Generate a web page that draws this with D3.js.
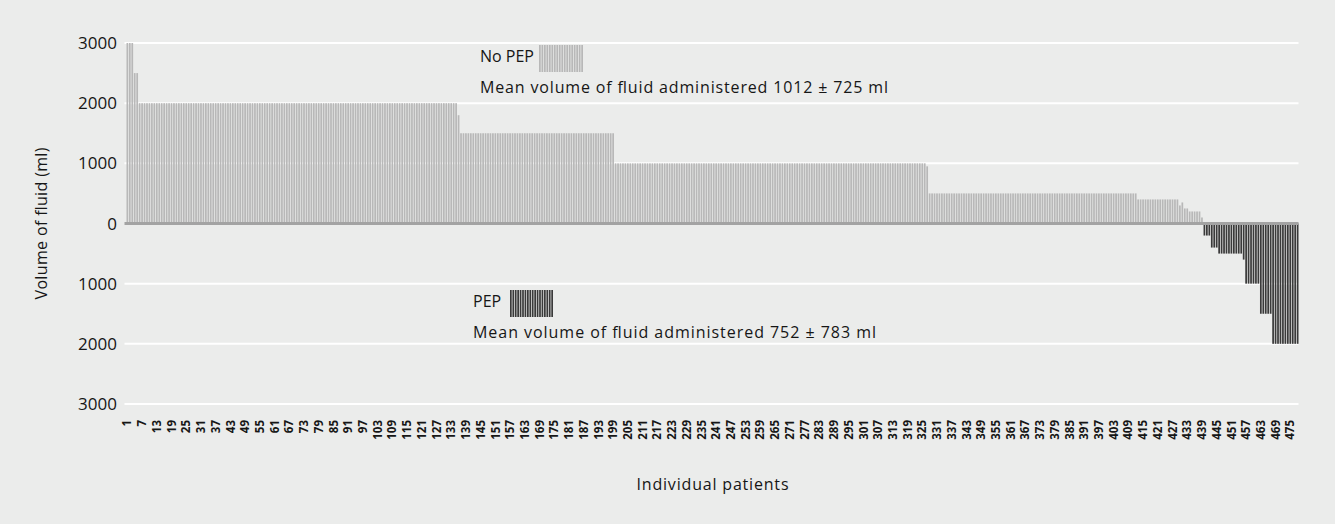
<!DOCTYPE html>
<html>
<head>
<meta charset="utf-8">
<script src="https://cdn.jsdelivr.net/npm/d3@7"></script>
<style>
  body { margin: 0; background: #ffffff; }
  svg text { font-family: "Open Sans", "Noto Sans", sans-serif; fill: #161616; }
</style>
</head>
<body>
<div id="chart"></div>
<script>
// fluid volume per patient, stored as runs (level, number of patients)
var noPepLevels = [3000, 2500, 2000, 1800, 1500, 1000, 950, 500, 400, 300, 350, 250, 200, 100];
var noPepCounts = [3, 2, 130, 1, 63, 127, 1, 85, 17, 1, 1, 2, 5, 1];
var pepLevels   = [200, 400, 500, 600, 1000, 1500, 2000];
var pepCounts   = [3, 3, 10, 1, 6, 5, 11];
var yTicks      = [3000, 2000, 1000, 0, -1000, -2000, -3000];
var xTickStep   = 6;

var W = 1335, H = 524;
var m = { left: 126.5, right: 36.5, top: 43, bottom: 120 };

// expand the runs into one record per patient
var data = [];
noPepLevels.forEach(function(v, i) {
    for (var k = 0; k < noPepCounts[i]; k++) data.push({ p: data.length + 1, v: v, pep: false });
});
pepLevels.forEach(function(v, i) {
    for (var k = 0; k < pepCounts[i]; k++) data.push({ p: data.length + 1, v: -v, pep: true });
});

var svg = d3.select("#chart").append("svg").attr("width", W).attr("height", H);
svg.append("rect").attr("x", 0).attr("y", 0).attr("width", W).attr("height", H).attr("fill", "#ebeceb");

var x = d3.scaleBand().domain(data.map(function(d) { return d.p; }))
    .range([m.left, W - m.right]).paddingInner(0.3).paddingOuter(0);
var y = d3.scaleLinear().domain([-3000, 3000]).range([H - m.bottom, m.top]);

// grid lines
svg.append("g").selectAll("line").data(yTicks.filter(function(t) { return t !== 0; })).enter()
    .append("line")
    .attr("x1", m.left - 2).attr("x2", W - m.right)
    .attr("y1", function(d) { return y(d); }).attr("y2", function(d) { return y(d); })
    .attr("stroke", "#ffffff").attr("stroke-width", 2);

// bars
svg.append("g").selectAll("rect").data(data).enter()
    .append("rect")
    .attr("x", function(d) { return x(d.p); })
    .attr("width", x.bandwidth())
    .attr("y", function(d) { return y(Math.max(0, d.v)); })
    .attr("height", function(d) { return Math.abs(y(d.v) - y(0)); })
    .attr("fill", function(d) { return d.pep ? "#3a3a3a" : "#b8b8b8"; });

// zero line
svg.append("line")
    .attr("x1", m.left - 2).attr("x2", W - m.right)
    .attr("y1", y(0)).attr("y2", y(0))
    .attr("stroke", "#a3a3a3").attr("stroke-width", 3);

// y axis labels (absolute values)
svg.append("g").selectAll("text").data(yTicks).enter()
    .append("text")
    .attr("x", 117).attr("y", function(d) { return y(d); })
    .attr("dy", "0.36em").attr("text-anchor", "end")
    .style("font-size", "17px")
    .text(function(d) { return Math.abs(d); });

// x axis labels
var xTicks = data.filter(function(d) { return (d.p - 1) % xTickStep === 0; }).map(function(d) { return d.p; });
svg.append("g").selectAll("text").data(xTicks).enter()
    .append("text")
    .attr("transform", function(d) { return "translate(" + (x(d) + x.bandwidth() / 2) + "," + (H - m.bottom + 16) + ") rotate(-90)"; })
    .attr("dy", "0.36em").attr("text-anchor", "end")
    .style("font-size", "11.5px").style("font-weight", "bold")
    .text(function(d) { return d; });

// axis titles
svg.append("text")
    .attr("transform", "translate(47," + y(0) + ") rotate(-90)")
    .attr("text-anchor", "middle").style("font-size", "16px")
    .attr("textLength", 152).attr("lengthAdjust", "spacing")
    .text("Volume of fluid (ml)");
svg.append("text")
    .attr("x", (m.left + W - m.right) / 2).attr("y", 490)
    .attr("text-anchor", "middle").style("font-size", "16px")
    .attr("textLength", 152).attr("lengthAdjust", "spacing")
    .text("Individual patients");

// legends
function legend(lx, ly, label, swX, swW, dark, mean, meanLen) {
    var g = svg.append("g");
    g.append("text").attr("x", lx).attr("y", ly).style("font-size", "16px").text(label);
    var n = Math.round(swW / 2.45);
    var sw = d3.scaleBand().domain(d3.range(n)).range([swX, swX + swW]).paddingInner(0.3);
    g.selectAll("rect").data(d3.range(n)).enter().append("rect")
        .attr("x", function(d) { return sw(d); }).attr("width", sw.bandwidth())
        .attr("y", ly - 17).attr("height", 27)
        .attr("fill", dark ? "#3a3a3a" : "#b8b8b8");
    g.append("text").attr("x", lx).attr("y", ly + 31).style("font-size", "16px")
        .attr("textLength", meanLen).attr("lengthAdjust", "spacing").text(mean);
}
legend(480, 62, "No PEP", 539, 44, false, "Mean volume of fluid administered 1012 \u00b1 725 ml", 408);
legend(473, 307, "PEP", 510, 43, true, "Mean volume of fluid administered 752 \u00b1 783 ml", 403);
</script>
</body>
</html>
